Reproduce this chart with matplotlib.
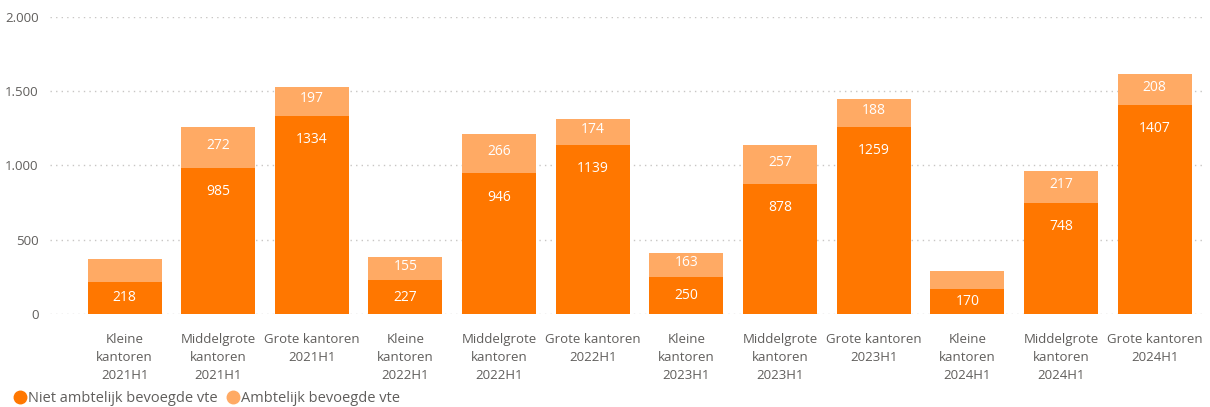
import matplotlib.pyplot as plt
from matplotlib.lines import Line2D
from matplotlib.ticker import FuncFormatter

plt.rcParams['font.family'] = ['Open Sans', 'DejaVu Sans']

# Data
categories = [
    "Kleine\nkantoren\n2021H1", "Middelgrote\nkantoren\n2021H1", "Grote kantoren\n2021H1",
    "Kleine\nkantoren\n2022H1", "Middelgrote\nkantoren\n2022H1", "Grote kantoren\n2022H1",
    "Kleine\nkantoren\n2023H1", "Middelgrote\nkantoren\n2023H1", "Grote kantoren\n2023H1",
    "Kleine\nkantoren\n2024H1", "Middelgrote\nkantoren\n2024H1", "Grote kantoren\n2024H1",
]
niet_ambtelijk = [218, 985, 1334, 227, 946, 1139, 250, 878, 1259, 170, 748, 1407]
ambtelijk = [152, 272, 197, 155, 266, 174, 163, 257, 188, 120, 217, 208]
# labels shown for the light segment (None = hidden in the original)
ambtelijk_labels = [None, 272, 197, 155, 266, 174, 163, 257, 188, None, 217, 208]
yticks = [0, 500, 1000, 1500, 2000]

dark = "#FF7700"
light = "#FFAA64"
grey = "#605E5C"

fig = plt.figure(figsize=(12.1, 4.07), dpi=100)
ax = fig.add_axes([0.041, 0.2285, 0.955, 0.73])

x = list(range(len(categories)))
ax.bar(x, niet_ambtelijk, width=0.79, color=dark, zorder=2)
ax.bar(x, ambtelijk, width=0.79, bottom=niet_ambtelijk, color=light, zorder=2)

for xi, d, a, al in zip(x, niet_ambtelijk, ambtelijk, ambtelijk_labels):
    if d < 400:
        ax.text(xi, d / 2, str(d), ha="center", va="center", color="white", fontsize=10)
    else:
        ax.annotate(str(d), (xi, d), xytext=(0, -17), textcoords="offset points",
                    ha="center", va="center", color="white", fontsize=10)
    if al is not None:
        ax.text(xi, d + a / 2 + 15, str(al), ha="center", va="center", color="white", fontsize=10)

ax.set_ylim(0, 2000)
ax.set_xlim(-0.8, 11.54)
ax.set_yticks(yticks)
ax.yaxis.set_major_formatter(FuncFormatter(lambda v, p: f"{int(v):,}".replace(",", ".")))
ax.set_xticks(x)
ax.set_xticklabels(categories, fontsize=9.5, color=grey, linespacing=1.5)
ax.tick_params(axis="y", labelsize=9.5, labelcolor=grey, length=0, pad=8)
ax.tick_params(axis="x", length=0, pad=14)
ax.grid(axis="y", linestyle=(0, (1, 3)), color="#C8C6C4", linewidth=1, zorder=0)
for s in ax.spines.values():
    s.set_visible(False)

handles = [
    Line2D([], [], marker="o", linestyle="", color=dark, markersize=9),
    Line2D([], [], marker="o", linestyle="", color=light, markersize=9),
]
fig.legend(handles, ["Niet ambtelijk bevoegde vte", "Ambtelijk bevoegde vte"],
           loc="lower left", bbox_to_anchor=(0.0, -0.03), ncol=2, frameon=False,
           fontsize=10.5, labelcolor=grey, handletextpad=0.0, columnspacing=0.6,
           handlelength=1.0)

plt.savefig("out.png", dpi=100)
